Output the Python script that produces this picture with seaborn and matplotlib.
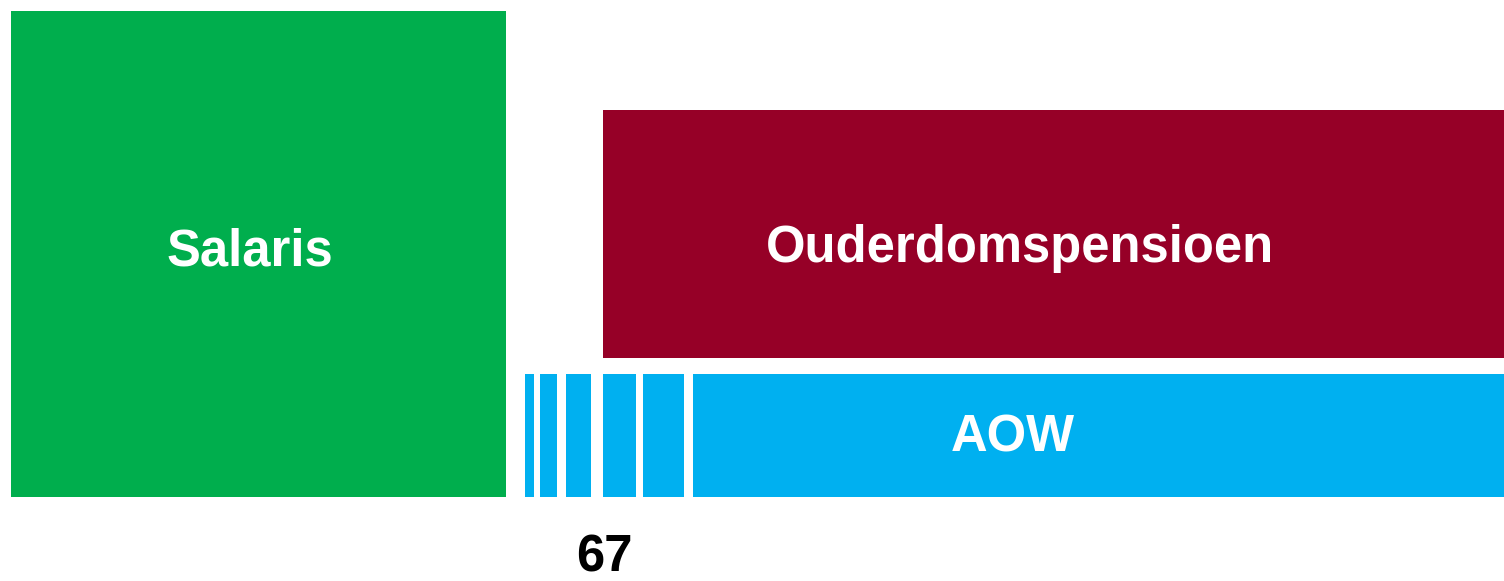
import seaborn as sns
import matplotlib.pyplot as plt

sns.set_theme(style="white")
plt.rcParams["font.family"] = ["Liberation Sans", "DejaVu Sans"]

# layout in pixel-like units (x: time axis, y: top-down)
blocks = ["Salaris", "Ouderdomspensioen", "AOW"]
block_left = [11, 603, 693]
block_right = [506, 1504, 1504]
block_top = [11, 110, 374]
block_bottom = [497, 358, 497]
block_colors = ["#00ae4d", "#960027", "#00b0f0"]
label_x = [250, 1020, 1013]
label_baseline = [265, 262, 451]

# small AOW stripes before the full AOW block
stripe_left = [525, 540, 566, 603, 643]
stripe_right = [534, 557, 591, 636, 684]

age_label = "67"
age_x = 604
age_baseline = 571

fig = plt.figure(figsize=(15.04, 5.81), dpi=100)
ax = fig.add_axes([0, 0, 1, 1])

for name, l, r, t, b, c, lx, ly in zip(blocks, block_left, block_right, block_top,
                                       block_bottom, block_colors, label_x, label_baseline):
    ax.bar(l, b - t, width=r - l, bottom=t, align="edge", color=c, linewidth=0)
    ax.text(lx, ly, name, color="white", fontsize=36.5, fontweight="bold",
            ha="center", va="baseline")

for l, r in zip(stripe_left, stripe_right):
    ax.bar(l, block_bottom[2] - block_top[2], width=r - l, bottom=block_top[2],
           align="edge", color=block_colors[2], linewidth=0)

ax.text(age_x, age_baseline, age_label, color="black", fontsize=36.5, fontweight="bold",
        ha="center", va="baseline")

ax.set_xlim(0, 1504)
ax.set_ylim(581, 0)
ax.axis("off")

fig.savefig("out.png", dpi=100)
